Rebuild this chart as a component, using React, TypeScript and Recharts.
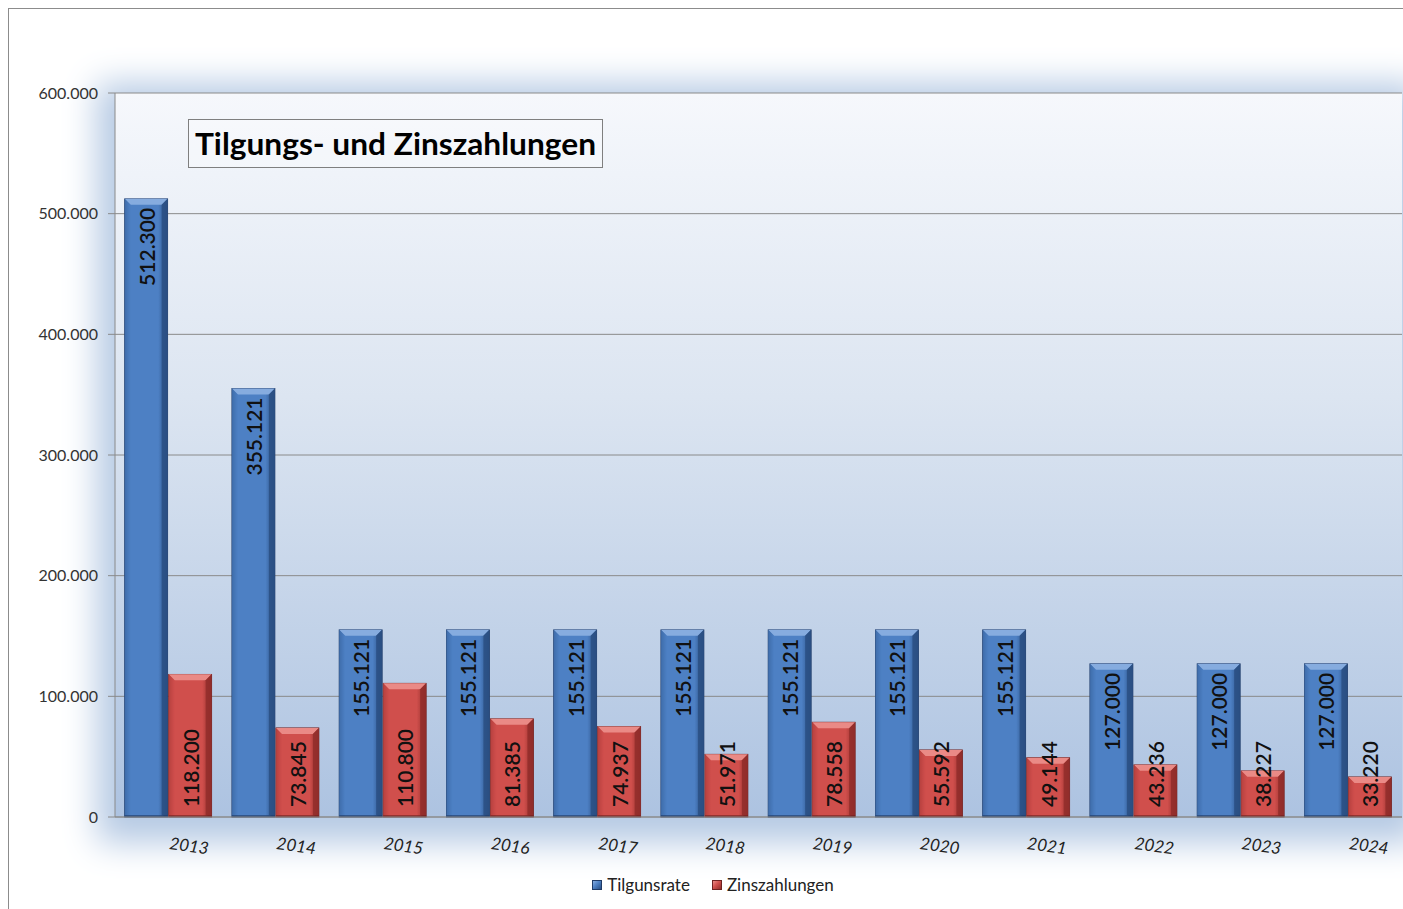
import { BarChart, Bar, XAxis, YAxis, CartesianGrid, LabelList, Legend } from 'recharts'

const years = ['2013', '2014', '2015', '2016', '2017', '2018', '2019', '2020', '2021', '2022', '2023', '2024']
const tilgung = [512300, 355121, 155121, 155121, 155121, 155121, 155121, 155121, 155121, 127000, 127000, 127000]
const zinsen = [118200, 73845, 110800, 81385, 74937, 51971, 78558, 55592, 49144, 43236, 38227, 33220]
const yTicks = [0, 100000, 200000, 300000, 400000, 500000, 600000]

const data = years.map((year, i) => ({ year, tilgung: tilgung[i], zinsen: zinsen[i] }))
const boundaries = [...years.map((_, i) => i), years.length]

const FONT = 'Lato, "Open Sans", sans-serif'
const GRID = '#8a8a8a'

const BLUE = { face: '#4d80c4', light: '#86acdf', dark: '#2a4f83', edge: '#1f3a66' }
const RED = { face: '#d04f4c', light: '#ea8a86', dark: '#902d2a', edge: '#6e2120' }

const fmt = (v: number) => String(v).replace(/\B(?=(\d{3})+(?!\d))/g, '.')

type Tone = typeof BLUE

function BevelBar(props: any) {
  const { x, y, width: w, height: h, tone, id } = props as { x: number; y: number; width: number; height: number; tone: Tone; id: string }
  if (!h || h <= 0) return null
  const b = Math.min(6, h / 2)
  return (
    <g>
      <defs>
        <linearGradient id={id} x1="0" y1="0" x2="1" y2="0">
          <stop offset="0%" stopColor={tone.dark} />
          <stop offset="14%" stopColor={tone.face} />
          <stop offset="78%" stopColor={tone.face} />
          <stop offset="100%" stopColor={tone.dark} />
        </linearGradient>
      </defs>
      <rect x={x} y={y} width={w} height={h} fill={`url(#${id})`} stroke={tone.edge} strokeWidth={0.8} />
      <polygon points={`${x},${y} ${x + w},${y} ${x + w - b},${y + b} ${x + b},${y + b}`} fill={tone.light} />
      <polygon points={`${x + w},${y} ${x + w},${y + h} ${x + w - b},${y + h - 2} ${x + w - b},${y + b}`} fill={tone.dark} opacity={0.85} />
      <polygon points={`${x},${y} ${x + b},${y + b} ${x + b},${y + h - 2} ${x},${y + h}`} fill={tone.face} opacity={0.6} />
      <rect x={x} y={y + h - 2} width={w} height={2} fill={tone.edge} opacity={0.6} />
    </g>
  )
}

function VLabel(props: any) {
  const { x, y, width, height, value, atTop } = props
  const cx = x + width / 2
  const py = atTop ? y + 9 : y + height - 10
  return (
    <text
      x={cx}
      y={py}
      transform={`rotate(-90, ${cx}, ${py})`}
      textAnchor={atTop ? 'end' : 'start'}
      dominantBaseline="central"
      fontFamily={FONT}
      fontSize={21}
      fontWeight={600}
      fill="#111"
    >
      {fmt(value)}
    </text>
  )
}

function YearTick(props: any) {
  const { x, y, payload } = props
  const by = y + 16
  return (
    <text
      x={x}
      y={by}
      transform={`rotate(8, ${x}, ${by})`}
      fontFamily={FONT}
      fontStyle="italic"
      fontSize={17}
      fill="#222"
    >
      {payload.value}
    </text>
  )
}

function LegendBox() {
  const items = [
    { label: 'Tilgunsrate', tone: BLUE },
    { label: 'Zinszahlungen', tone: RED },
  ]
  return (
    <div style={{ display: 'flex', justifyContent: 'center', gap: 22, fontFamily: FONT, fontSize: 17, color: '#222' }}>
      {items.map((it) => (
        <div key={it.label} style={{ display: 'flex', alignItems: 'center', gap: 5 }}>
          <span
            style={{
              width: 10,
              height: 10,
              display: 'inline-block',
              background: `linear-gradient(135deg, ${it.tone.light}, ${it.tone.face} 45%, ${it.tone.dark})`,
              border: `1px solid ${it.tone.edge}`,
              boxSizing: 'border-box',
            }}
          />
          <span>{it.label}</span>
        </div>
      ))}
    </div>
  )
}

export default function App() {
  return (
    <div style={{ position: 'absolute', left: 0, top: 0, width: 1403, height: 909, overflow: 'hidden', background: '#fff' }}>
      <div style={{ position: 'absolute', left: 8, top: 8, width: 1500, height: 1000, border: '1.5px solid #8c8c8c' }} />
      <div
        style={{
          position: 'absolute',
          left: 115,
          top: 93,
          width: 1287,
          height: 724,
          background: 'linear-gradient(180deg, #f6f8fc 0%, #dce5f1 42%, #adc3e1 100%)',
          boxShadow: '0 8px 32px 18px #b6cae4',
        }}
      />
      <div style={{ position: 'absolute', left: 0, top: 0 }}>
        <BarChart
          width={1403}
          height={909}
          data={data}
          margin={{ top: 93, right: 1, left: 0, bottom: 44 }}
          barCategoryGap="9%"
          barGap={1}
        >
          <CartesianGrid vertical={false} stroke={GRID} />
          <XAxis
            xAxisId="axis"
            type="number"
            domain={[0, years.length]}
            ticks={boundaries}
            tick={false}
            tickSize={7}
            height={8}
            stroke={GRID}
            allowDataOverflow
          />
          <XAxis xAxisId="cat" dataKey="year" axisLine={false} tickLine={false} height={40} tick={<YearTick />} />
          <YAxis
            domain={[0, 600000]}
            ticks={yTicks}
            tickFormatter={fmt}
            width={115}
            tickSize={7}
            tickMargin={10}
            stroke={GRID}
            tick={{ fontFamily: FONT, fontSize: 16, fill: '#333' }}
          />
          <Bar
            xAxisId="cat"
            dataKey="tilgung"
            name="Tilgunsrate"
            isAnimationActive={false}
            shape={(p: any) => <BevelBar {...p} tone={BLUE} id={`gb${p.index}`} />}
          >
            <LabelList dataKey="tilgung" content={(p: any) => <VLabel {...p} atTop />} />
          </Bar>
          <Bar
            xAxisId="cat"
            dataKey="zinsen"
            name="Zinszahlungen"
            isAnimationActive={false}
            shape={(p: any) => <BevelBar {...p} tone={RED} id={`gr${p.index}`} />}
          >
            <LabelList dataKey="zinsen" content={(p: any) => <VLabel {...p} />} />
          </Bar>
          <Legend
            verticalAlign="middle"
            align="center"
            content={() => <LegendBox />}
            wrapperStyle={{ top: 874, left: 0, width: 1426 }}
          />
        </BarChart>
      </div>
      <svg style={{ position: 'absolute', left: 188, top: 119 }} width={415} height={49}>
        <rect x={0.5} y={0.5} width={414} height={48} fill="rgba(255,255,255,0.25)" stroke="#7f7f7f" strokeWidth={1} />
        <text
          x={7}
          y={36}
          textLength={401}
          lengthAdjust="spacingAndGlyphs"
          fontFamily={FONT}
          fontWeight="bold"
          fontSize={30}
          fill="#000"
        >
          Tilgungs- und Zinszahlungen
        </text>
      </svg>
    </div>
  )
}
